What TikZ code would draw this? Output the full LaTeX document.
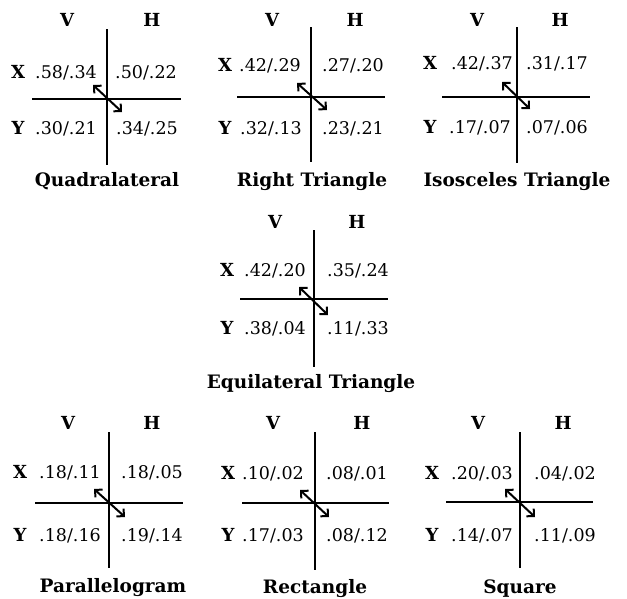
\documentclass[tikz,border=0pt]{standalone}
\usepackage{fontspec}
\setmainfont{DejaVu Serif}
\usetikzlibrary{arrows.meta}

\begin{document}
\begin{tikzpicture}[x=1pt, y=-1pt,
    every node/.style={inner sep=0pt, text height=13pt, text depth=0pt},
    hdr/.style={font=\bfseries\fontsize{18}{21}\selectfont},
    ttl/.style={font=\bfseries\fontsize{18.5}{22}\selectfont},
    val/.style={font=\fontsize{17.5}{21}\selectfont},
    axis/.style={line width=2pt},
    flip/.style={line width=2pt,
      {Straight Barb[angle=90:7.5pt]}-{Straight Barb[angle=90:7.5pt]}}]
  \useasboundingbox (0,0) rectangle (627,598);

  % Quadralateral
  \node[hdr] (quadV) at (67,20) {V};
  \node[hdr] (quadH) at (152,20) {H};
  \node[hdr] (quadX) at (18,72) {X};
  \node[hdr] (quadY) at (18,128) {Y};
  \node[val] (quadXV) at (66,72) {.58/.34};
  \node[val] (quadXH) at (146,72) {.50/.22};
  \node[val] (quadYV) at (66,128) {.30/.21};
  \node[val] (quadYH) at (147,128) {.34/.25};
  \node[ttl] (quadT) at (107,180) {Quadralateral};
  \draw[axis] (107,29) -- (107,165);
  \draw[axis] (32,99) -- (181,99);
  \draw[flip] (93,85) -- (122,112);

  % Right Triangle
  \node[hdr] (rtriV) at (272,20) {V};
  \node[hdr] (rtriH) at (355,20) {H};
  \node[hdr] (rtriX) at (225,65) {X};
  \node[hdr] (rtriY) at (225,128) {Y};
  \node[val] (rtriXV) at (270,65) {.42/.29};
  \node[val] (rtriXH) at (353,65) {.27/.20};
  \node[val] (rtriYV) at (271,128) {.32/.13};
  \node[val] (rtriYH) at (353,128) {.23/.21};
  \node[ttl] (rtriT) at (312,180) {Right Triangle};
  \draw[axis] (311,27) -- (311,162);
  \draw[axis] (237,97) -- (385,97);
  \draw[flip] (297,83) -- (327,110);

  % Isosceles Triangle
  \node[hdr] (isosV) at (477,20) {V};
  \node[hdr] (isosH) at (560,20) {H};
  \node[hdr] (isosX) at (430,63) {X};
  \node[hdr] (isosY) at (430,127) {Y};
  \node[val] (isosXV) at (482,63) {.42/.37};
  \node[val] (isosXH) at (557,63) {.31/.17};
  \node[val] (isosYV) at (480,127) {.17/.07};
  \node[val] (isosYH) at (557,127) {.07/.06};
  \node[ttl] (isosT) at (517,180) {Isosceles Triangle};
  \draw[axis] (517,27) -- (517,163);
  \draw[axis] (442,97) -- (590,97);
  \draw[flip] (502,82) -- (530,109);

  % Equilateral Triangle
  \node[hdr] (equiV) at (275,222) {V};
  \node[hdr] (equiH) at (357,222) {H};
  \node[hdr] (equiX) at (227,270) {X};
  \node[hdr] (equiY) at (227,328) {Y};
  \node[val] (equiXV) at (275,270) {.42/.20};
  \node[val] (equiXH) at (358,270) {.35/.24};
  \node[val] (equiYV) at (275,328) {.38/.04};
  \node[val] (equiYH) at (358,328) {.11/.33};
  \node[ttl] (equiT) at (311,382) {Equilateral Triangle};
  \draw[axis] (314,230) -- (314,367);
  \draw[axis] (240,299) -- (388,299);
  \draw[flip] (299,287) -- (328,315);

  % Parallelogram
  \node[hdr] (paraV) at (68,423) {V};
  \node[hdr] (paraH) at (152,423) {H};
  \node[hdr] (paraX) at (20,472) {X};
  \node[hdr] (paraY) at (20,535) {Y};
  \node[val] (paraXV) at (70,472) {.18/.11};
  \node[val] (paraXH) at (152,472) {.18/.05};
  \node[val] (paraYV) at (70,535) {.18/.16};
  \node[val] (paraYH) at (152,535) {.19/.14};
  \node[ttl] (paraT) at (113,586) {Parallelogram};
  \draw[axis] (109,432) -- (109,568);
  \draw[axis] (35,503) -- (183,503);
  \draw[flip] (94,489) -- (125,517);

  % Rectangle
  \node[hdr] (rectV) at (273,423) {V};
  \node[hdr] (rectH) at (362,423) {H};
  \node[hdr] (rectX) at (228,473) {X};
  \node[hdr] (rectY) at (228,535) {Y};
  \node[val] (rectXV) at (273,473) {.10/.02};
  \node[val] (rectXH) at (357,473) {.08/.01};
  \node[val] (rectYV) at (273,535) {.17/.03};
  \node[val] (rectYH) at (357,535) {.08/.12};
  \node[ttl] (rectT) at (315,587) {Rectangle};
  \draw[axis] (315,432) -- (315,570);
  \draw[axis] (242,503) -- (389,503);
  \draw[flip] (300,490) -- (329,517);

  % Square
  \node[hdr] (sqrV) at (478,423) {V};
  \node[hdr] (sqrH) at (563,423) {H};
  \node[hdr] (sqrX) at (432,473) {X};
  \node[hdr] (sqrY) at (432,535) {Y};
  \node[val] (sqrXV) at (482,473) {.20/.03};
  \node[val] (sqrXH) at (565,473) {.04/.02};
  \node[val] (sqrYV) at (482,535) {.14/.07};
  \node[val] (sqrYH) at (565,535) {.11/.09};
  \node[ttl] (sqrT) at (520,587) {Square};
  \draw[axis] (520,432) -- (520,568);
  \draw[axis] (446,502) -- (593,502);
  \draw[flip] (505,489) -- (535,517);
\end{tikzpicture}
\end{document}
